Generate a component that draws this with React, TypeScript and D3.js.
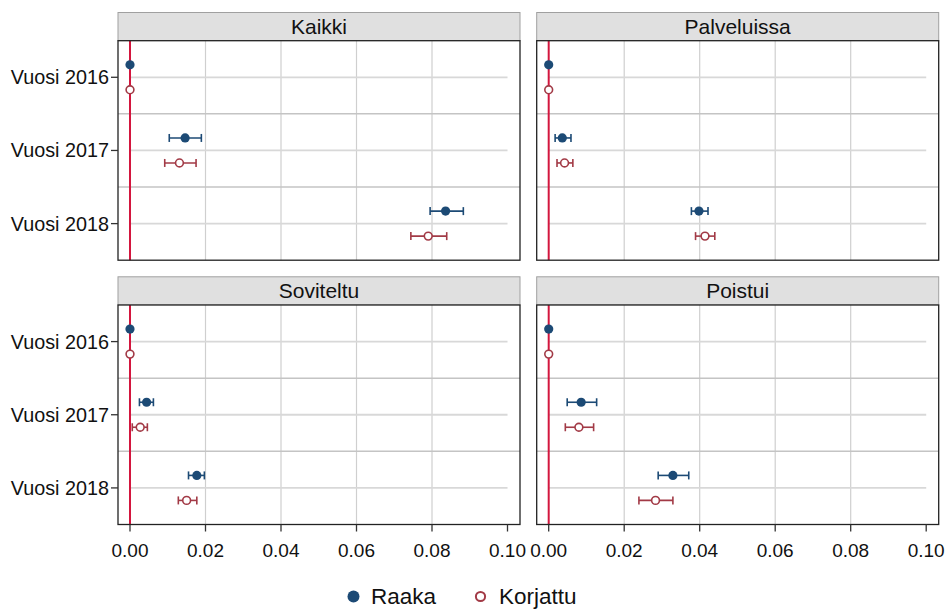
import React from 'react';
import * as d3 from 'd3';

// facet panels, in reading order
const panels = ['Kaikki', 'Palveluissa', 'Soviteltu', 'Poistui'];
const years = ['Vuosi 2016', 'Vuosi 2017', 'Vuosi 2018'];
const series = ['Raaka', 'Korjattu'];
const xTicks = [0, 0.02, 0.04, 0.06, 0.08, 0.1];

// estimate / lower / upper per panel, per year
const raakaEst = [[0, 0.0146, 0.0836], [0, 0.0036, 0.0398], [0, 0.0044, 0.0177], [0, 0.0086, 0.0329]];
const raakaLo = [[0, 0.0104, 0.0795], [0, 0.0017, 0.0378], [0, 0.0025, 0.0155], [0, 0.0049, 0.029]];
const raakaHi = [[0, 0.0189, 0.0883], [0, 0.0059, 0.0422], [0, 0.0062, 0.0197], [0, 0.0127, 0.0371]];
const korjEst = [[0, 0.0131, 0.079], [0, 0.0042, 0.0414], [0, 0.0027, 0.015], [0, 0.008, 0.0283]];
const korjLo = [[0, 0.0092, 0.0744], [0, 0.0022, 0.0389], [0, 0.0006, 0.0128], [0, 0.0044, 0.0239]];
const korjHi = [[0, 0.0175, 0.0839], [0, 0.0064, 0.044], [0, 0.0046, 0.0177], [0, 0.0119, 0.0329]];

const W = 948;
const H = 609;
const FONT = '"Liberation Sans", Arial, sans-serif';
const BLUE = '#1c4a75';
const RED = '#a23a46';
const VLINE = '#d3163e';

const colLeft = [118, 536.7];
const panelW = 402;
const rowTop = [40.7, 305];
const panelH = 219.5;
const stripH = 28.2;

const App: React.FC = () => {
  const dodge = d3.scalePoint<string>().domain(series).range([-12.5, 12.5]);

  return (
    <svg width={W} height={H} style={{ position: 'absolute', left: 0, top: 0, background: '#fff' }} fontFamily={FONT}>
      {panels.map((name, pi) => {
        const col = pi % 2;
        const row = Math.floor(pi / 2);
        const left = colLeft[col];
        const top = rowTop[row];
        const x = d3.scaleLinear().domain([0, 0.1]).range([left + 12, left + 389.5]);
        const y = d3.scaleBand<string>().domain(years).range([top, top + panelH]).padding(0);
        const cy = (yr: string) => (y(yr) as number) + y.bandwidth() / 2;
        const pts = [
          { s: 'Raaka', est: raakaEst[pi], lo: raakaLo[pi], hi: raakaHi[pi], color: BLUE },
          { s: 'Korjattu', est: korjEst[pi], lo: korjLo[pi], hi: korjHi[pi], color: RED },
        ];
        return (
          <g key={name}>
            {/* strip */}
            <rect x={left} y={top - stripH} width={panelW} height={stripH} fill="#e0e0e0" stroke="#a0a0a0" strokeWidth={1} />
            <text x={left + panelW / 2} y={top - 7} textAnchor="middle" fontSize={21} fill="#111">{name}</text>
            <rect x={left} y={top} width={panelW} height={panelH} fill="#fff" />
            {/* vertical grid */}
            {xTicks.slice(1, -1).map((t) => (
              <line key={t} x1={x(t)} x2={x(t)} y1={top} y2={top + panelH} stroke="#cfcfcf" strokeWidth={1.2} />
            ))}
            {/* band boundaries */}
            {years.slice(1).map((yr) => (
              <line key={yr} x1={left} x2={left + panelW} y1={y(yr)} y2={y(yr)} stroke="#c4c4c4" strokeWidth={1.5} />
            ))}
            {/* category lines */}
            {years.map((yr) => (
              <line key={yr} x1={x(0)} x2={x(0.1)} y1={cy(yr)} y2={cy(yr)} stroke="#d8d8d8" strokeWidth={1.8} />
            ))}
            <line x1={x(0)} x2={x(0)} y1={top} y2={top + panelH} stroke={VLINE} strokeWidth={2} />
            {/* error bars and points */}
            {pts.map((p) =>
              years.map((yr, i) => {
                const yy = cy(yr) + (dodge(p.s) as number);
                const hasCi = p.hi[i] > p.lo[i];
                return (
                  <g key={p.s + yr}>
                    {hasCi && (
                      <g stroke={p.color} strokeWidth={1.6}>
                        <line x1={x(p.lo[i])} x2={x(p.hi[i])} y1={yy} y2={yy} />
                        <line x1={x(p.lo[i])} x2={x(p.lo[i])} y1={yy - 4} y2={yy + 4} />
                        <line x1={x(p.hi[i])} x2={x(p.hi[i])} y1={yy - 4} y2={yy + 4} />
                      </g>
                    )}
                    {p.s === 'Raaka' ? (
                      <circle cx={x(p.est[i])} cy={yy} r={4.6} fill={p.color} />
                    ) : (
                      <circle cx={x(p.est[i])} cy={yy} r={3.9} fill="#fff" stroke={p.color} strokeWidth={1.6} />
                    )}
                  </g>
                );
              })
            )}
            <rect x={left} y={top} width={panelW} height={panelH} fill="none" stroke="#222" strokeWidth={1.3} />
            {/* y axis */}
            {col === 0 &&
              years.map((yr) => (
                <g key={yr}>
                  <line x1={left - 7} x2={left} y1={cy(yr)} y2={cy(yr)} stroke="#333" strokeWidth={1.3} />
                  <text x={left - 9} y={cy(yr) + 7} textAnchor="end" fontSize={19.8} fill="#111">{yr}</text>
                </g>
              ))}
            {/* x axis */}
            {row === 1 &&
              xTicks.map((t) => (
                <g key={t}>
                  <line x1={x(t)} x2={x(t)} y1={top + panelH} y2={top + panelH + 7} stroke="#333" strokeWidth={1.3} />
                  <text x={x(t)} y={557} textAnchor="middle" fontSize={19} fill="#111">{t.toFixed(2)}</text>
                </g>
              ))}
          </g>
        );
      })}
      {/* legend */}
      <circle cx={353.5} cy={596.5} r={6} fill={BLUE} />
      <text x={371} y={603.5} fontSize={22.5} fill="#111">{series[0]}</text>
      <circle cx={480.5} cy={596.5} r={4.6} fill="#fff" stroke={RED} strokeWidth={2} />
      <text x={499} y={603.5} fontSize={22.5} fill="#111">{series[1]}</text>
    </svg>
  );
};

export default App;
